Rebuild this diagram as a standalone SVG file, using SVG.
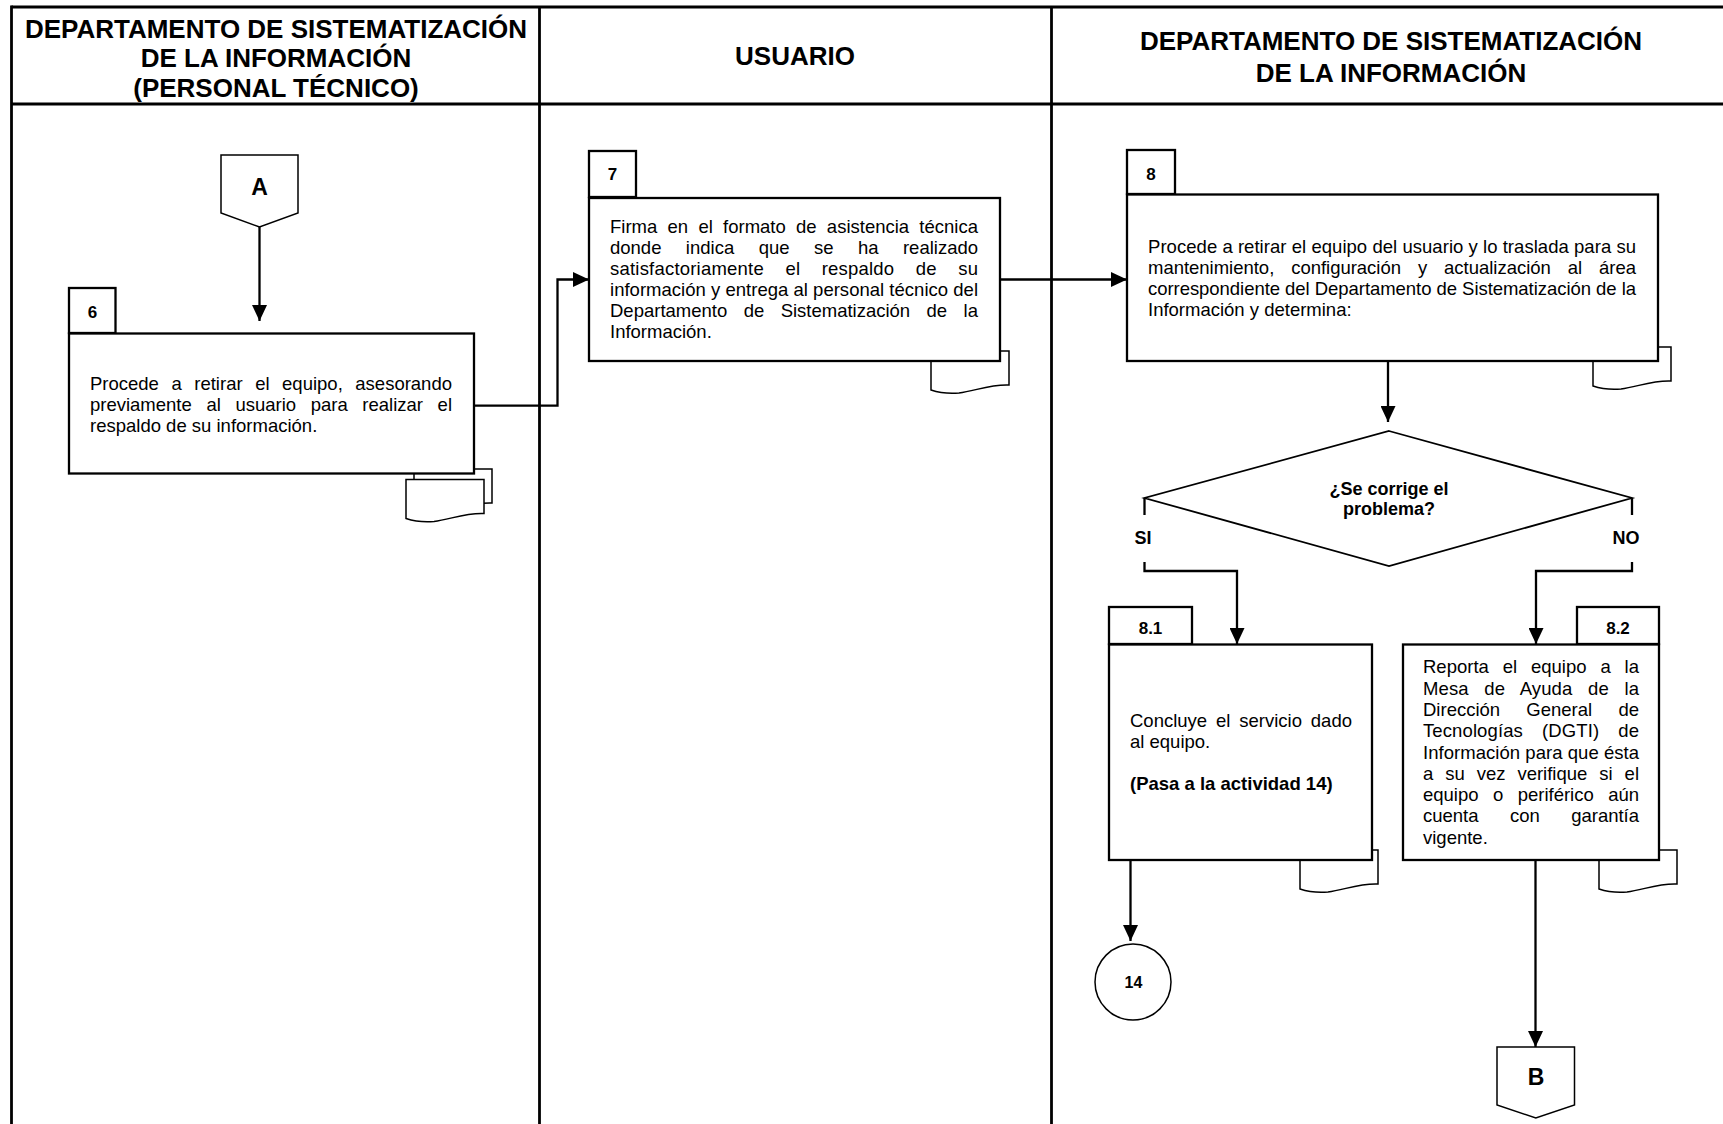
<svg xmlns="http://www.w3.org/2000/svg" width="1723" height="1124" viewBox="0 0 1723 1124">
<style>
.frame{stroke:#000;stroke-width:2.8;fill:none}
.box{fill:#fff;stroke:#000;stroke-width:2.3}
.doc{fill:#fff;stroke:#000;stroke-width:1.5}
.shape{fill:#fff;stroke:#000;stroke-width:1.5}
.conn{fill:none;stroke:#000;stroke-width:2.3}
.hdr{font-family:"Liberation Sans",Arial,sans-serif;font-weight:bold;font-size:26px;text-anchor:middle;fill:#000}
.num{font-family:"Liberation Sans",Arial,sans-serif;font-weight:bold;font-size:17px;text-anchor:middle;fill:#000}
.body{font-family:"Liberation Sans",Arial,sans-serif;font-size:18.5px;fill:#000}
.bold{font-family:"Liberation Sans",Arial,sans-serif;font-weight:bold;font-size:18.5px;fill:#000}
.lbl{font-family:"Liberation Sans",Arial,sans-serif;font-weight:bold;font-size:18px;text-anchor:middle;fill:#000}
.conx{font-family:"Liberation Sans",Arial,sans-serif;font-weight:bold;font-size:23px;text-anchor:middle;fill:#000}
</style>
<defs>
<marker id="arr" markerUnits="userSpaceOnUse" markerWidth="16" markerHeight="15" refX="16" refY="7.5" orient="auto">
<path d="M0,0 L16,7.5 L0,15 Z" fill="#000"/>
</marker>
<path id="docshape" d="M0,0 H78 V34 C60,33 44,40 28,42 C16,43 6,41 0,39 Z"/>
</defs>
<rect width="1723" height="1124" fill="#fff"/>

<g id="frame">
<line class="frame" x1="11.5" y1="7" x2="1723" y2="7"/>
<line class="frame" x1="11.5" y1="104" x2="1723" y2="104"/>
<line class="frame" x1="11.5" y1="5.6" x2="11.5" y2="1124"/>
<line class="frame" x1="539.5" y1="7" x2="539.5" y2="1124"/>
<line class="frame" x1="1051.5" y1="7" x2="1051.5" y2="1124"/>
</g>

<g id="headers">
<text class="hdr" x="276" y="37.5">DEPARTAMENTO DE SISTEMATIZACIÓN</text>
<text class="hdr" x="276" y="67">DE LA INFORMACIÓN</text>
<text class="hdr" x="276" y="96.5">(PERSONAL TÉCNICO)</text>
<text class="hdr" x="795" y="65">USUARIO</text>
<text class="hdr" x="1391" y="50">DEPARTAMENTO DE SISTEMATIZACIÓN</text>
<text class="hdr" x="1391" y="81.5">DE LA INFORMACIÓN</text>
</g>

<g id="connectors">
<path class="conn" d="M259.5,227 V321" marker-end="url(#arr)"/>
<path class="conn" d="M474,405.7 H557.5 V279.5 H589" marker-end="url(#arr)"/>
<path class="conn" d="M1000,279.5 H1127" marker-end="url(#arr)"/>
<path class="conn" d="M1388,361 V422" marker-end="url(#arr)"/>
<path class="conn" d="M1144.5,498 V515"/>
<path class="conn" d="M1144.5,562 V571 H1237 V644" marker-end="url(#arr)"/>
<path class="conn" d="M1632,498 V515"/>
<path class="conn" d="M1632,562 V571 H1536 V644" marker-end="url(#arr)"/>
<path class="conn" d="M1130.5,860 V941" marker-end="url(#arr)"/>
<path class="conn" d="M1535.5,860 V1047" marker-end="url(#arr)"/>
</g>

<g id="connA">
<path class="shape" d="M221,155 H298 V213 L259.5,227 L221,213 Z"/>
<text class="conx" x="259.5" y="195">A</text>
</g>

<g id="act6">
<use href="#docshape" class="doc" x="414" y="469"/>
<use href="#docshape" class="doc" x="406" y="479.5"/>
<rect class="box" x="69" y="288" width="46.5" height="45"/>
<text class="num" x="92.5" y="318">6</text>
<rect class="box" x="69" y="333.5" width="405" height="140"/>
<text class="body" x="90" y="390" word-spacing="7.4" textLength="362" lengthAdjust="spacing">Procede a retirar el equipo, asesorando</text>
<text class="body" x="90" y="411" word-spacing="9.5" textLength="362" lengthAdjust="spacing">previamente al usuario para realizar el</text>
<text class="body" x="90" y="432">respaldo de su información.</text>
</g>

<g id="act7">
<use href="#docshape" class="doc" x="931" y="351"/>
<rect class="box" x="589" y="151" width="47" height="46"/>
<text class="num" x="612.5" y="180">7</text>
<rect class="box" x="589" y="198" width="411" height="163"/>
<text class="body" x="610" y="232.8" word-spacing="5.1" textLength="368" lengthAdjust="spacing">Firma en el formato de asistencia técnica</text>
<text class="body" x="610" y="253.9" word-spacing="19.3" textLength="368" lengthAdjust="spacing">donde indica que se ha realizado</text>
<text class="body" x="610" y="275" word-spacing="16.1" textLength="368" lengthAdjust="spacing">satisfactoriamente el respaldo de su</text>
<text class="body" x="610" y="296.1" textLength="368" lengthAdjust="spacing">información y entrega al personal técnico del</text>
<text class="body" x="610" y="317.2" word-spacing="11.3" textLength="368" lengthAdjust="spacing">Departamento de Sistematización de la</text>
<text class="body" x="610" y="338.3">Información.</text>
</g>

<g id="act8">
<use href="#docshape" class="doc" x="1593" y="347"/>
<rect class="box" x="1127" y="150" width="48" height="44"/>
<text class="num" x="1151" y="180">8</text>
<rect class="box" x="1127" y="194.5" width="531" height="166.5"/>
<text class="body" x="1148" y="253" textLength="488" lengthAdjust="spacing">Procede a retirar el equipo del usuario y lo traslada para su</text>
<text class="body" x="1148" y="274" word-spacing="11.8" textLength="488" lengthAdjust="spacing">mantenimiento, configuración y actualización al área</text>
<text class="body" x="1148" y="295" textLength="488" lengthAdjust="spacing">correspondiente del Departamento de Sistematización de la</text>
<text class="body" x="1148" y="315.6">Información y determina:</text>
</g>

<g id="decision">
<path class="shape" style="stroke-width:1.8" d="M1389,431 L1632,498 L1389,566 L1144.5,498 Z"/>
<text class="lbl" x="1389" y="495">¿Se corrige el</text>
<text class="lbl" x="1389" y="515">problema?</text>
<text class="lbl" x="1143" y="544">SI</text>
<text class="lbl" x="1626" y="544">NO</text>
</g>

<g id="act81">
<use href="#docshape" class="doc" x="1300" y="850"/>
<rect class="box" x="1109" y="607" width="83" height="37"/>
<text class="num" x="1150.5" y="634">8.1</text>
<rect class="box" x="1109" y="644.5" width="263" height="215.5"/>
<text class="body" x="1130" y="726.7" word-spacing="3.7" textLength="222" lengthAdjust="spacing">Concluye el servicio dado</text>
<text class="body" x="1130" y="747.5">al equipo.</text>
<text class="bold" x="1130" y="790">(Pasa a la actividad 14)</text>
</g>

<g id="act82">
<use href="#docshape" class="doc" x="1599" y="850"/>
<rect class="box" x="1577" y="607" width="82" height="37"/>
<text class="num" x="1618" y="634">8.2</text>
<rect class="box" x="1403" y="644.5" width="256" height="215.5"/>
<text class="body" x="1423" y="673.3" word-spacing="8.75" textLength="216" lengthAdjust="spacing">Reporta el equipo a la</text>
<text class="body" x="1423" y="694.6" word-spacing="10.5" textLength="216" lengthAdjust="spacing">Mesa de Ayuda de la</text>
<text class="body" x="1423" y="715.9" word-spacing="21.1" textLength="216" lengthAdjust="spacing">Dirección General de</text>
<text class="body" x="1423" y="737.2" word-spacing="13.9" textLength="216" lengthAdjust="spacing">Tecnologías (DGTI) de</text>
<text class="body" x="1423" y="758.5" textLength="216" lengthAdjust="spacing">Información para que ésta</text>
<text class="body" x="1423" y="779.8" word-spacing="6.8" textLength="216" lengthAdjust="spacing">a su vez verifique si el</text>
<text class="body" x="1423" y="801.1" word-spacing="9.3" textLength="216" lengthAdjust="spacing">equipo o periférico aún</text>
<text class="body" x="1423" y="822.4" word-spacing="26.3" textLength="216" lengthAdjust="spacing">cuenta con garantía</text>
<text class="body" x="1423" y="843.7">vigente.</text>
</g>

<g id="conn14">
<circle class="shape" cx="1133" cy="982" r="38"/>
<text class="num" style="font-size:16px" x="1133.5" y="987.5">14</text>
</g>

<g id="connB">
<path class="shape" d="M1497,1047 H1574.5 V1105 L1535.8,1118 L1497,1105 Z"/>
<text class="conx" x="1536" y="1085">B</text>
</g>
</svg>
